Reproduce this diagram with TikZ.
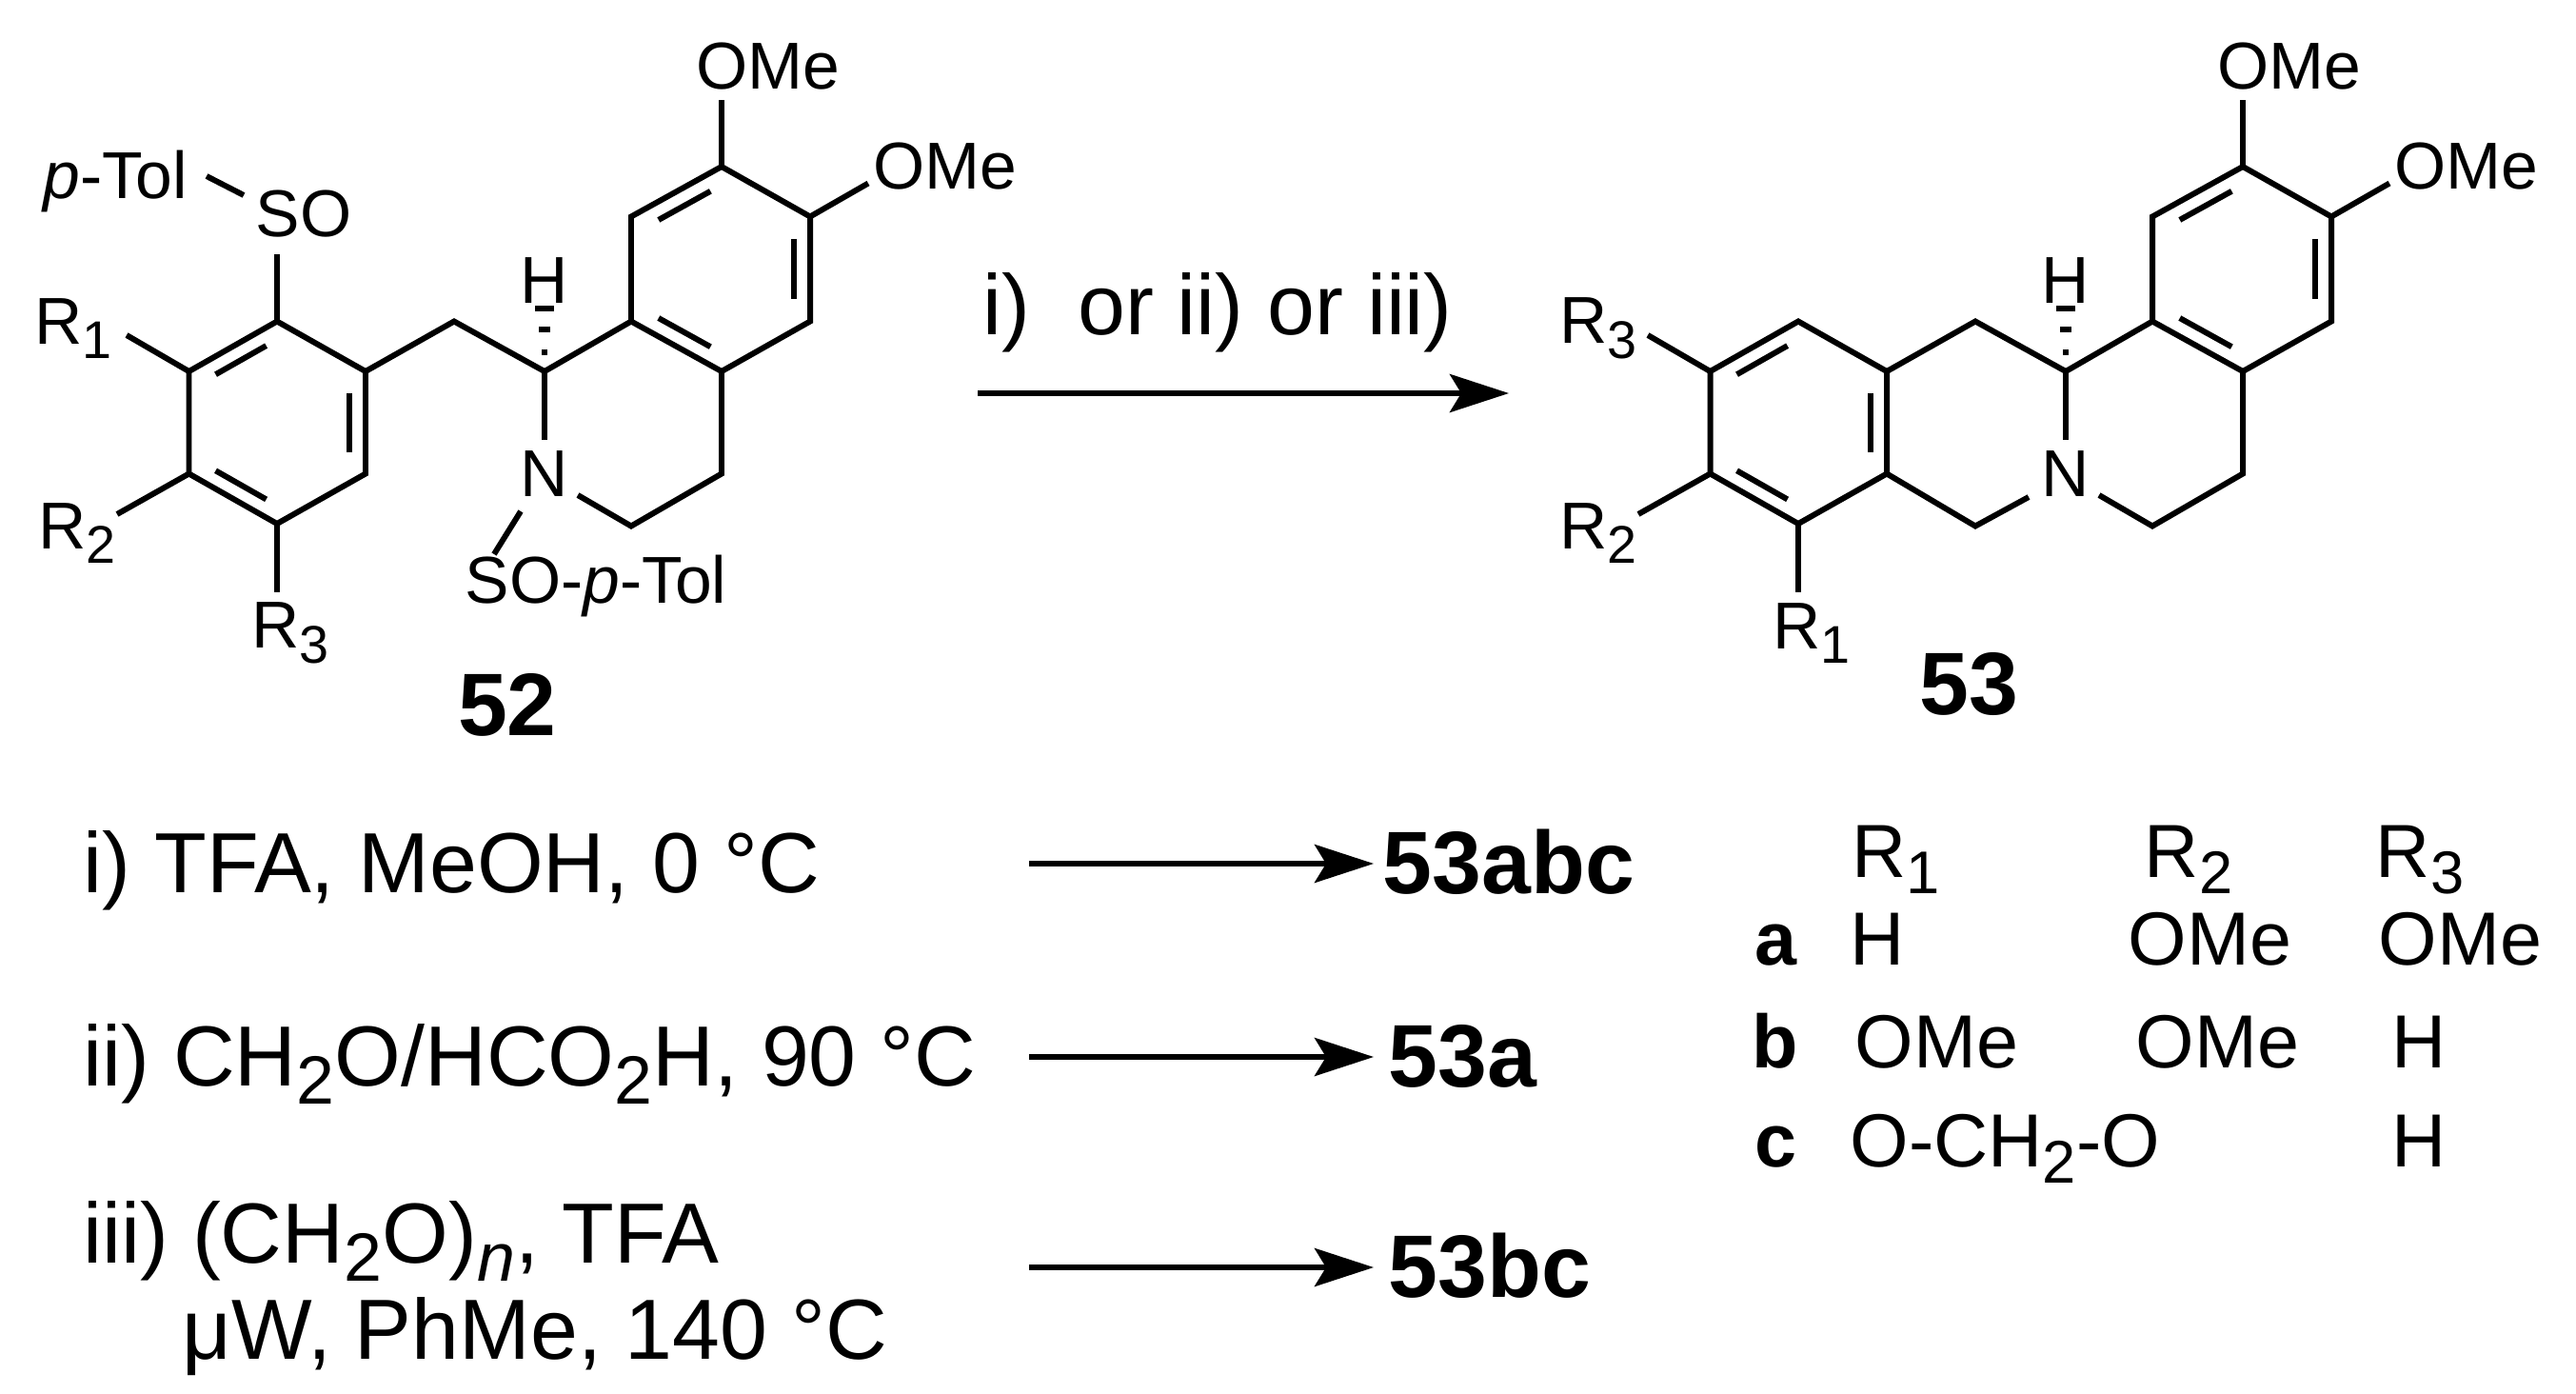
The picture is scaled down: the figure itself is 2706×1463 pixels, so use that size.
\documentclass[tikz,border=0pt]{standalone}
\usepackage{fontspec}
\setmainfont{Liberation Sans}
\usetikzlibrary{calc,arrows.meta}
\newcommand{\sbs}[1]{\raisebox{-0.42ex}{\scalebox{0.8}{#1}}}
\tikzset{
 bond/.style={line width=1.7pt},
 lab/.style={inner sep=0pt,font=\fontsize{19.8}{22}\selectfont},
 rtxt/.style={inner sep=0pt,anchor=base west,font=\fontsize{25.5}{28}\selectfont},
 ptxt/.style={inner sep=0pt,anchor=base west,font=\fontsize{26.5}{28}\selectfont\bfseries},
 ttxt/.style={inner sep=0pt,anchor=base west,font=\fontsize{22.5}{26}\selectfont},
 rarrow/.style={line width=1.7pt,-{Stealth[length=0.62cm,width=0.4cm,inset=0.12cm]}},
}
\newcommand{\dbl}[3]{\draw[bond] ($($(#1)!0.15!(#2)$)!0.18!(#3)$) -- ($($(#2)!0.15!(#1)$)!0.18!(#3)$);}
\newcommand{\skel}[1]{%
 \begin{scope}[shift={(#1,0)}]
  \coordinate (A1) at (291,337.5); \coordinate (A2) at (384,390);
  \coordinate (A3) at (384,497.5); \coordinate (A4) at (291,550);
  \coordinate (A5) at (198.5,497.5); \coordinate (A6) at (198.5,390);
  \coordinate (AC) at (291,443.75);
  \coordinate (CC) at (477,337.5); \coordinate (CS) at (572,390);
  \coordinate (NB) at (572,462);
  \coordinate (B1) at (663,337.5); \coordinate (B2) at (663,227.5);
  \coordinate (B3) at (758,175); \coordinate (B4) at (851,227.5);
  \coordinate (B5) at (851,337.5); \coordinate (B6) at (758,390);
  \coordinate (BC) at (758,282.5);
  \coordinate (D1) at (663,552.5); \coordinate (D2) at (758,497.5);
  \coordinate (NR) at (607,520);
  \draw[bond] (A1)--(A2)--(A3)--(A4)--(A5)--(A6)--cycle;
  \dbl{A6}{A1}{AC} \dbl{A2}{A3}{AC} \dbl{A4}{A5}{AC}
  \draw[bond] (A2)--(CC)--(CS)--(B1);
  \draw[bond] (CS)--(NB);
  \draw[bond] (B1)--(B2)--(B3)--(B4)--(B5)--(B6)--cycle;
  \dbl{B2}{B3}{BC} \dbl{B4}{B5}{BC} \dbl{B1}{B6}{BC}
  \draw[bond] (NR)--(D1)--(D2)--(B6);
  \draw[bond] (B3)--(758,105); \draw[bond] (B4)--(912,192.5);
  \node[lab] (ome1) at (807,70) {OMe};
  \node[lab] (ome2) at (993,175) {OMe};
  \node[lab] (nn) at (572,497.5) {N};
  \node[lab] (hh) at (572,295) {H};
  \fill (569,367) rectangle (575,373);
  \fill (566,343) rectangle (578,349);
  \fill (562,321) rectangle (582,327);
 \end{scope}}
\begin{document}
\begin{tikzpicture}[x=0.01cm,y=-0.01cm]
\useasboundingbox (0,0) rectangle (2706,1463);
% compound 52
\skel{0}
\draw[bond] (A1)--(291,267);
\node[lab] (so) at (319,225) {SO};
\draw[bond] (217,185)--(256,205);
\node[lab] (ptol) at (121,190) {\textit{p}-Tol};
\draw[bond] (A6)--(133,352);
\node[lab] (r1a) at (77,345) {R\sbs{1}};
\draw[bond] (A5)--(123,540);
\node[lab] (r2a) at (81,560) {R\sbs{2}};
\draw[bond] (A4)--(291,622);
\node[lab] (r3a) at (305,665) {R\sbs{3}};
\draw[bond] (547,537)--(519,582);
\node[lab] (sop) at (626,615) {SO-\textit{p}-Tol};
\node[ptxt,anchor=center] (c52) at (533,740) {52};
% compound 53
\skel{1598}
\draw[bond] (A3)--(2075,552.5)--(2131,522);
\draw[bond] (A6)--(1731,352);
\node[lab] (r3b) at (1679,345) {R\sbs{3}};
\draw[bond] (A5)--(1721,540);
\node[lab] (r2b) at (1679,560) {R\sbs{2}};
\draw[bond] (A4)--(1889,622);
\node[lab] (r1b) at (1903,665) {R\sbs{1}};
\node[ptxt,anchor=center] (c53) at (2068,718) {53};
% main arrow
\coordinate (ma1) at (1027,413); \coordinate (ma2) at (1585,413);
\draw[rarrow] (ma1)--(ma2);
\node[rtxt] (cond) at (1032,351) {i)\ \ or ii) or iii)};
% conditions
\node[rtxt] (ci) at (87,937) {i) TFA, MeOH, 0 °C};
\node[rtxt] (cii) at (87,1140) {ii) CH\sbs{2}O/HCO\sbs{2}H, 90 °C};
\node[rtxt] (ciii) at (87,1326) {iii) (CH\sbs{2}O)\sbs{\textit{n}}, TFA};
\node[rtxt] (civ) at (191,1427) {μW, PhMe, 140 °C};
\coordinate (a1s) at (1081,907); \coordinate (a1e) at (1443,907);
\coordinate (a2s) at (1081,1110); \coordinate (a2e) at (1443,1110);
\coordinate (a3s) at (1081,1331); \coordinate (a3e) at (1443,1331);
\draw[rarrow] (a1s)--(a1e);
\draw[rarrow] (a2s)--(a2e);
\draw[rarrow] (a3s)--(a3e);
\node[ptxt] (p1) at (1452,938) {53abc};
\node[ptxt] (p2) at (1458,1141) {53a};
\node[ptxt] (p3) at (1458,1362) {53bc};
% table
\node[ttxt,anchor=base] (h1) at (1992,921) {R\sbs{1}};
\node[ttxt,anchor=base] (h2) at (2299,921) {R\sbs{2}};
\node[ttxt,anchor=base] (h3) at (2542,921) {R\sbs{3}};
\node[ttxt,anchor=base,font=\fontsize{22.5}{26}\selectfont\bfseries] (ra) at (1865,1013) {a};
\node[ttxt,anchor=base,font=\fontsize{22.5}{26}\selectfont\bfseries] (rb) at (1865,1121) {b};
\node[ttxt,anchor=base,font=\fontsize{22.5}{26}\selectfont\bfseries] (rc) at (1865,1225) {c};
\node[ttxt] (a1) at (1943,1013) {H};
\node[ttxt] (a2) at (2235,1013) {OMe};
\node[ttxt] (a3) at (2498,1013) {OMe};
\node[ttxt] (b1) at (1948,1121) {OMe};
\node[ttxt] (b2) at (2243,1121) {OMe};
\node[ttxt] (b3) at (2512,1121) {H};
\node[ttxt] (cc1) at (1943,1225) {O-CH\sbs{2}-O};
\node[ttxt] (cc3) at (2512,1225) {H};
\end{tikzpicture}
\end{document}
